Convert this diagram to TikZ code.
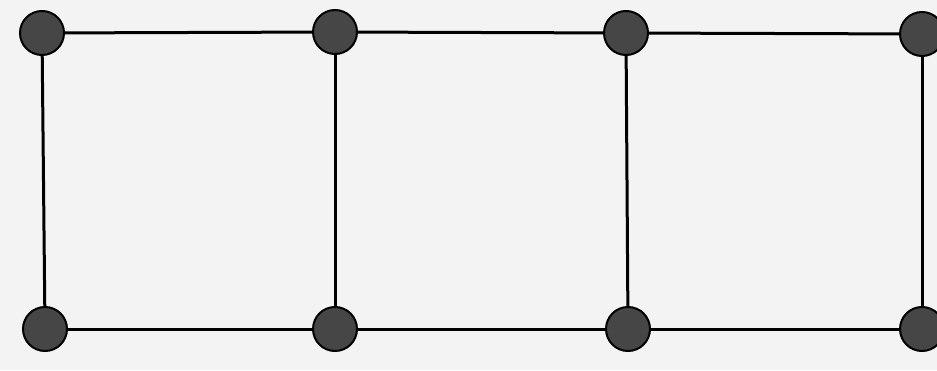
\documentclass[tikz,border=0pt]{standalone}
\definecolor{bgcol}{RGB}{243,243,243}
\definecolor{nodecol}{RGB}{70,70,70}
\begin{document}
\begin{tikzpicture}[x=1pt,y=1pt,
  vtx/.style={circle,draw=black,line width=2pt,fill=nodecol,minimum size=44pt,inner sep=0pt},
  edge/.style={line width=3pt,black}]
\fill[bgcol] (0,0) rectangle (937,370);
\useasboundingbox (0,0) rectangle (937,370);
\node[vtx] (a1) at (42,337) {};
\node[vtx] (a2) at (335,338) {};
\node[vtx] (a3) at (626,337) {};
\node[vtx] (a4) at (922,336) {};
\node[vtx] (b1) at (45,41) {};
\node[vtx] (b2) at (335,41) {};
\node[vtx] (b3) at (628,41) {};
\node[vtx] (b4) at (922,41) {};
\draw[edge] (a1) -- (a2);
\draw[edge] (a2) -- (a3);
\draw[edge] (a3) -- (a4);
\draw[edge] (b1) -- (b2);
\draw[edge] (b2) -- (b3);
\draw[edge] (b3) -- (b4);
\draw[edge] (a1) -- (b1);
\draw[edge] (a2) -- (b2);
\draw[edge] (a3) -- (b3);
\draw[edge] (a4) -- (b4);
\end{tikzpicture}
\end{document}
